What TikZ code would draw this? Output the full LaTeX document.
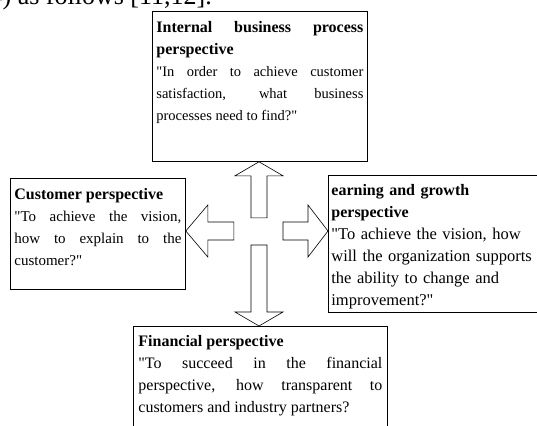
\documentclass[tikz,border=0pt]{standalone}
\usepackage{fontspec}
\setmainfont{Liberation Serif}[Ligatures=TeXOff]
\tikzset{
    x=1pt, y=-1pt, % one unit is one pixel of the page, y runs down
    pbox/.style={ % the four perspective boxes
        draw,
        line width=0.8pt,
        anchor=north west,
        align=justify,
        inner xsep=4pt,
        inner ysep=4pt,
        text height=17pt,
        font=\fontsize{15}{22}\selectfont
    },
    arrowbody/.style={ % outline of the fat arrows
        draw,
        fill=white,
        line width=0.6pt,
        line join=miter
    },
    % length / head length / half head width / half shaft width
    pics/blockarrow/.style args={#1/#2/#3/#4}{
        code={\path[arrowbody] (0,0) -- (-#2,-#3) -- (-#2,-#4) -- (-#1,-#4)
            -- (-#1,#4) -- (-#2,#4) -- (-#2,#3) -- cycle;}
    },
}
\newcommand{\boxtitle}[1]{{\fontsize{16}{22}\selectfont\bfseries #1}}

\begin{document}
\begin{tikzpicture}
    \useasboundingbox (0,0) rectangle (537,425);
    \node[anchor=base east, inner sep=0pt, font=\fontsize{26}{30}\selectfont] (lead) at (212,5) {4) as follows [11,12].};

    \node[pbox, text width=207pt, text depth=125pt, font=\fontsize{14.5}{22}\selectfont] (ibp) at (152,11)
        {\boxtitle{Internal business process}\linebreak\boxtitle{perspective}\\
         "In order to achieve customer\linebreak satisfaction, what business\linebreak processes need to find?"};
    \node[pbox, text width=167pt, text depth=86pt] (cust) at (10,178)
        {\boxtitle{Customer perspective}\\
         "To achieve the vision,\linebreak how to explain to the\linebreak customer?"};
    \node[pbox, align=left, inner xsep=3pt, text width=215pt, text height=16pt, text depth=113pt,
          font=\fontsize{16.5}{22}\selectfont] (learn) at (328,175)
        {\boxtitle{earning and growth}\\ \boxtitle{perspective}\\
         "To achieve the vision, how\\ will the organization supports\\ the ability to change and\\ improvement?"};
    \node[pbox, text width=244pt, inner xsep=5pt, text height=16pt, text depth=90pt,
          font=\fontsize{16}{22}\selectfont] (fin) at (133,326)
        {\boxtitle{Financial perspective}\\
         "To succeed in the financial\linebreak perspective, how transparent to\linebreak customers and industry partners?};

    \coordinate (hub) at (259,231);
    \path (hub |- ibp.south)   pic[rotate=90]  {blockarrow={56/14/24/8}}
          (hub |- fin.north)   pic[rotate=-90] {blockarrow={81/14/24/8}}
          (cust.east |- hub)   pic[rotate=180] {blockarrow={48/22/26/9}}
          (learn.west |- hub)  pic             {blockarrow={45/20/26/9}};
\end{tikzpicture}
\end{document}
